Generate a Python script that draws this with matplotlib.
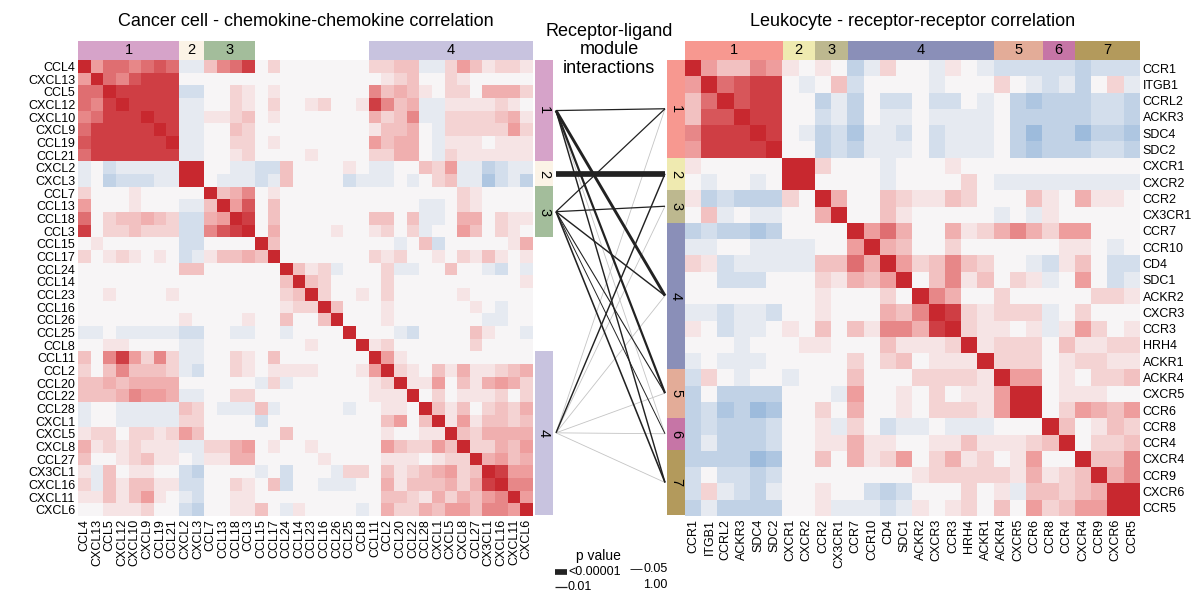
import numpy as np
import matplotlib
matplotlib.use('Agg')
import matplotlib.pyplot as plt
from matplotlib.colors import LinearSegmentedColormap
from matplotlib.patches import Rectangle

plt.rcParams['font.family'] = ['Liberation Sans', 'DejaVu Sans']

# ---- data ----
chemokines = ['CCL4', 'CXCL13', 'CCL5', 'CXCL12', 'CXCL10', 'CXCL9', 'CCL19', 'CCL21',
              'CXCL2', 'CXCL3', 'CCL7', 'CCL13', 'CCL18', 'CCL3', 'CCL15', 'CCL17',
              'CCL24', 'CCL14', 'CCL23', 'CCL16', 'CCL26', 'CCL25', 'CCL8', 'CCL11',
              'CCL2', 'CCL20', 'CCL22', 'CCL28', 'CXCL1', 'CXCL5', 'CXCL8', 'CCL27',
              'CX3CL1', 'CXCL16', 'CXCL11', 'CXCL6']
receptors = ['CCR1', 'ITGB1', 'CCRL2', 'ACKR3', 'SDC4', 'SDC2', 'CXCR1', 'CXCR2',
             'CCR2', 'CX3CR1', 'CCR7', 'CCR10', 'CD4', 'SDC1', 'ACKR2', 'CXCR3', 'CCR3',
             'HRH4', 'ACKR1', 'ACKR4', 'CXCR5', 'CCR6', 'CCR8', 'CCR4', 'CXCR4', 'CCR9',
             'CXCR6', 'CCR5']

# correlation levels: 0-9 -> 0.0-0.9, X -> 1.0, a-e -> -0.1..-0.5
chemo_rows = [
    'X5776787 aa 3679 020000000 2233aa2531221',
    '5X768999 00 0000 000000000 0123002100000',
    '77X99999 bb 0021 010000000 6343102204442',
    '769X9999 aa 0021 020012001 9634aa1111210',
    '67999X99 aa 1123 010000000 4236aa2222341',
    '799999X9 aa 0032 000000000 13340a2222252',
    '8999999X aa 0022 010000000 53440a1110111',
    '79999999 aa 0012 000010000 22440a2111111',
    'a0baaaaa XX 00aa bb3000010 aa00325aacbaa',
    'a0cbbbaa XX 0aaa ba30000ba aa0a023aadbac',
    '20001000 00 X346 010000000 0000000210000',
    '50001000 aa 3X58 030000000 0000aa0210000',
    '70233432 bb 45X9 030000000 3303aa0440211',
    '90223222 bb 689X 040000100 1202a00530210',
    '01000000 bb 0000 X30000000 00a03b0000014',
    '20121010 ba 1334 3X0000000 2120010213101',
    '00000000 33 0000 00X312a00 02aa00300ab0a',
    '00000000 00 0000 003X32000 0200000000001',
    '00100001 00 0000 0023X2001 0200000100000',
    '00000000 00 0000 00122X300 0100000010a00',
    '00000000 10 0001 003003X00 010000000aa00',
    'aa0aaaaa bb 00aa 00a0000X0 00ab00003100a',
    '00110000 aa 0000 00001000X 1200000020000',
    '30695262 aa 0021 030000000 X510000000000',
    '20363332 ab 0021 011110001 5X21031411234',
    '33434444 00 0000 a2a000000 12X1150314542',
    '33346554 aa 0022 000000000 111X020111202',
    'a00aaaaa 32 0aaa 3a00000a0 0110X31302324',
    'a00aaaaa 22 0000 b00000000 03503X1513323',
    '12202212 53 0000 003000000 010011X324444',
    '41212111 aa 2245 010010000 0532253X22435',
    '30012311 0a 1144 000001000 01110122X4534',
    '1a301100 bc 0000 a0b000a22 031234523X955',
    '2a313311 bb 0021 03b00aaa0 0413334249X66',
    '11313510 ab 0011 000000000 03321424356X5',
    '00111200 bc 0011 30a10000a 042243553665X',
]
recep_rows = [
    'X53365 10 10 ca200a10a bbb bb cbbb',
    '5X7899 0a 03 b0000a000 20a ba c02a',
    '37X899 00 ca c0bb0bb0a 0cd cc cbbc',
    '388X99 00 ba c0aa0aaaa 0cc cc cbbc',
    '6999X9 0a cb daab0baaa 0ce cc eccd',
    '59999X 00 cb caaa0baaa 0cd cc cbbc',
    '100000 XX 20 00a000100 000 00 0000',
    '0a00a0 XX 00 00a000020 aaa aa aaaa',
    '1cbccc 20 X4 003211320 003 10 4110',
    '03a0aa 00 4X 003100000 a0a 10 0000',
    'cbccdc 00 00 X57400412 464 25 5000',
    'aa00aa aa 00 5X4300200 000 01 10a0',
    '21baaa aa 33 74X523632 00a b1 30bb',
    '00bbb0 00 21 435X03613 021 a0 50ba',
    '000000 00 10 0020X6400 200 00 0221',
    'aabaab 00 10 00436X921 222 a0 2000',
    '10baa0 10 30 316649X21 101 a1 5201',
    '000a00 01 10 0031112X1 222 03 1122',
    'a0aaa0 00 00 20230111X 222 01 2211',
    'b20a00 a0 00 300022221 X55 01 0223',
    'c0cccc 00 0a 500102011 5XX 01 1100',
    'cbdced 00 20 400102221 5XX 02 5435',
    'cbcccb 00 1a 20baa0aaa 000 X3 0132',
    'cacccb 00 11 411001131 112 3X 0223',
    'cccced 00 30 412502412 015 00 X336',
    'b0bbcb 00 00 000012222 214 12 3X46',
    'b2abca 00 10 0bcb00020 1a3 32 34XX',
    'cacccc 00 1a aaba10120 305 23 55XX',
]

chemo_modules = [1, 1, 1, 1, 1, 1, 1, 1, 2, 2, 3, 3, 3, 3] + [0] * 9 + [4] * 13
recep_modules = [1] * 6 + [2] * 2 + [3] * 2 + [4] * 9 + [5] * 3 + [6] * 2 + [7] * 4
chemo_module_colors = {1: '#d6a3c9', 2: '#fbf3e6', 3: '#a3bd9b', 4: '#c8c3df'}
recep_module_colors = {1: '#f79890', 2: '#efeab0', 3: '#bdb88f', 4: '#8a8fb8',
                       5: '#e3ac98', 6: '#c675a6', 7: '#b39a5c'}

# (chemokine module, receptor module, p value)
links = [(1, 1, 0.01), (1, 4, 1e-4), (1, 5, 5e-4), (1, 7, 0.005), (1, 6, 0.3),
         (2, 2, 1e-6),
         (3, 1, 0.01), (3, 3, 0.01), (3, 4, 0.005), (3, 5, 0.02), (3, 6, 0.04), (3, 7, 0.003),
         (4, 2, 0.005), (4, 1, 0.5), (4, 3, 0.5), (4, 4, 0.5), (4, 5, 0.5), (4, 6, 0.5), (4, 7, 0.5)]

LEVEL = {c: int(c) / 10 for c in '0123456789'}
LEVEL.update({'X': 1.0, 'a': -0.1, 'b': -0.2, 'c': -0.3, 'd': -0.4, 'e': -0.5})


def parse(rows, n):
    out = []
    for r in rows:
        vals = [LEVEL[c] for c in r.replace(' ', '')]
        vals = (vals + [0.0] * n)[:n]
        out.append(vals)
    return np.array(out)


chemo_corr = parse(chemo_rows, len(chemokines))
recep_corr = parse(recep_rows, len(receptors))

cmap = LinearSegmentedColormap.from_list('rb', ['#2f6fb0', '#9dbbdc', '#f8f6f7', '#ef9f9f', '#c8282f'])

W, H = 1200, 609
fig = plt.figure(figsize=(W / 100, H / 100), dpi=100)
bg = fig.add_axes([0, 0, 1, 1])
bg.set_xlim(0, W)
bg.set_ylim(H, 0)
bg.axis('off')


def px_axes(x0, y0, x1, y1):
    return fig.add_axes([x0 / W, 1 - y1 / H, (x1 - x0) / W, (y1 - y0) / H])


def draw_heat(mat, labels, x0, y0, x1, y1, label_side):
    ax = px_axes(x0, y0, x1, y1)
    ax.imshow(mat, cmap=cmap, vmin=-1, vmax=1, aspect='auto', interpolation='nearest')
    n = len(labels)
    ax.set_xticks(range(n))
    ax.set_xticklabels(labels, rotation=90, fontsize=9)
    ax.set_yticks(range(n))
    ax.set_yticklabels(labels, fontsize=9)
    if label_side == 'right':
        ax.yaxis.tick_right()
    ax.tick_params(length=0, pad=2)
    for s in ax.spines.values():
        s.set_visible(False)
    return ax


def module_spans(mods):
    spans = {}
    for i, m in enumerate(mods):
        if m == 0:
            continue
        a, b = spans.get(m, (i, i))
        spans[m] = (min(a, i), max(b, i))
    return spans


LX0, LX1, TY0, TY1 = 78, 533, 60, 516
RX0, RX1 = 685, 1140
draw_heat(chemo_corr, chemokines, LX0, TY0, LX1, TY1, 'left')
draw_heat(recep_corr, receptors, RX0, TY0, RX1, TY1, 'right')

lc = (LX1 - LX0) / len(chemokines)
rc = (RX1 - RX0) / len(receptors)
left_anchor, right_anchor = {}, {}

for m, (a, b) in module_spans(chemo_modules).items():
    col = chemo_module_colors[m]
    bg.add_patch(Rectangle((LX0 + a * lc, 41), (b - a + 1) * lc, TY0 - 41, color=col, lw=0))
    bg.text(LX0 + (a + b + 1) / 2 * lc, 50, str(m), ha='center', va='center', fontsize=10.5)
    bg.add_patch(Rectangle((LX1 + 2, TY0 + a * lc), 18, (b - a + 1) * lc, color=col, lw=0))
    ym = TY0 + (a + b + 1) / 2 * lc
    bg.text(LX1 + 11, ym, str(m), ha='center', va='center', fontsize=10.5, rotation=270)
    left_anchor[m] = ym

for m, (a, b) in module_spans(recep_modules).items():
    col = recep_module_colors[m]
    bg.add_patch(Rectangle((RX0 + a * rc, 41), (b - a + 1) * rc, TY0 - 41, color=col, lw=0))
    bg.text(RX0 + (a + b + 1) / 2 * rc, 50, str(m), ha='center', va='center', fontsize=10.5)
    bg.add_patch(Rectangle((RX0 - 18, TY0 + a * rc), 18, (b - a + 1) * rc, color=col, lw=0))
    ym = TY0 + (a + b + 1) / 2 * rc
    bg.text(RX0 - 9, ym, str(m), ha='center', va='center', fontsize=10.5, rotation=270)
    right_anchor[m] = ym


def link_style(p):
    if p > 0.05:
        return '#c4c4c4', 0.6
    return '#222222', 0.5 + 0.1 * (-np.log10(p)) ** 2


for lm, rm, p in links:
    c, w = link_style(p)
    bg.plot([556, RX0 - 20], [left_anchor[lm], right_anchor[rm]], color=c, lw=w,
            zorder=3 if p <= 0.05 else 2, solid_capstyle='butt')

# titles
bg.text((LX0 + LX1) / 2, 22, 'Cancer cell - chemokine-chemokine correlation', ha='center',
        va='center', fontsize=13)
bg.text((RX0 + RX1) / 2, 22, 'Leukocyte - receptor-receptor correlation', ha='center',
        va='center', fontsize=13)
bg.text(609, 50, 'Receptor-ligand\nmodule\ninteractions', ha='center', va='center',
        fontsize=13, linespacing=1.1)

# p value legend
bg.text(598, 556, 'p value', ha='center', va='center', fontsize=10)
for (x, y, p, lab) in [(555, 572, 1e-6, '<0.00001'), (555, 587, 0.01, '0.01'),
                       (630, 569, 0.05, '0.05'), (630, 585, 1.0, '1.00')]:
    c, w = link_style(p)
    if p > 0.05:
        c, w = 'none', 0
    bg.plot([x, x + 12], [y, y], color=c, lw=w, solid_capstyle='butt')
    bg.text(x + 13, y, lab, ha='left', va='center', fontsize=9)

fig.savefig('out.png', dpi=100)
